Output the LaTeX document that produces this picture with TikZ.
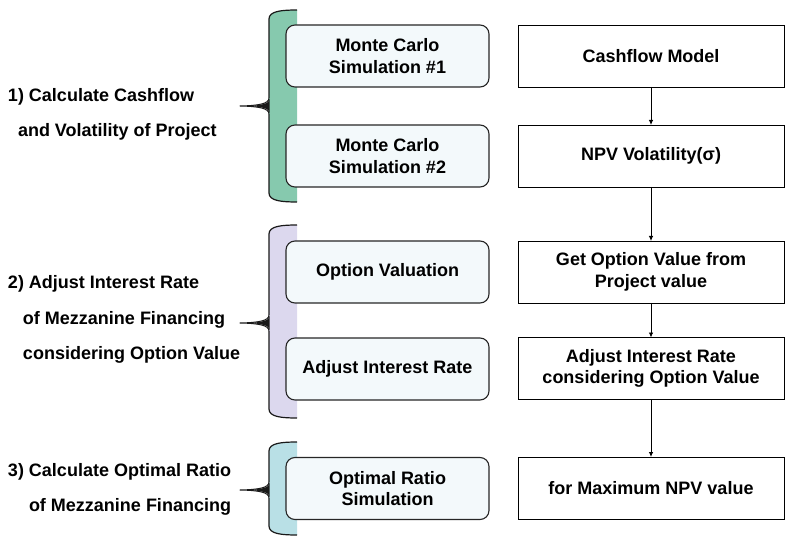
\documentclass[tikz,border=0pt]{standalone}
\usepackage{fontspec}
\setmainfont{Liberation Sans}
\usetikzlibrary{arrows.meta}
\definecolor{bgreen}{HTML}{86C9AE}
\definecolor{bpurple}{HTML}{DCD8EE}
\definecolor{bcyan}{HTML}{B9E0E6}
\definecolor{boxfill}{HTML}{F3F9FB}
\tikzset{
  every node/.style={font=\bfseries\fontsize{18}{21.5}\selectfont, inner sep=0pt, outer sep=0pt},
  leftbox/.style={draw=black!85, line width=1.1pt, fill=boxfill, rounded corners=9pt,
    minimum width=203pt, minimum height=62pt, align=center},
  rightbox/.style={draw=black, line width=0.9pt, fill=white,
    minimum width=266pt, minimum height=62pt, align=center},
  lab/.style={anchor=base west},
  flow/.style={draw=black, line width=0.8pt, -{Latex[length=5pt,width=4.5pt]}},
}
\newcommand{\mybrace}[4]{% color, top, tip, bottom
  \path[fill=#1] (297,#2) .. controls (282,#2) and (269,#2+1) .. (269,#2+9)
     -- (269,#4-9) .. controls (269,#4-1) and (282,#4) .. (297,#4) -- cycle;
  \draw[line width=1.2pt, black!90] (297,#2) .. controls (282,#2) and (269,#2+1) .. (269,#2+9)
     -- (269,#3-8);
  \draw[line width=1.2pt, black!90] (269,#3+8) -- (269,#4-9)
     .. controls (269,#4-1) and (282,#4) .. (297,#4);
  \draw[line width=1pt, black!90, line join=round] (269,#3-8) .. controls (269,#3-2) and (258,#3-0.4) .. (240,#3)
     .. controls (258,#3+0.4) and (269,#3+2) .. (269,#3+8);
  \fill[black!90] (269.6,#3-7) .. controls (269.6,#3-2) and (260,#3-0.9) .. (250,#3)
     .. controls (260,#3+0.9) and (269.6,#3+2) .. (269.6,#3+7) -- cycle;
}
\begin{document}
\begin{tikzpicture}[x=1pt,y=-1pt]
\useasboundingbox (0,0) rectangle (787,537);

\mybrace{bgreen}{10}{106}{202}
\mybrace{bpurple}{225}{323}{418}
\mybrace{bcyan}{442}{490}{535}

\node[leftbox] (m1) at (387.5,56) {Monte Carlo\\Simulation \#1};
\node[leftbox] (m2) at (387.5,156) {Monte Carlo\\Simulation \#2};
\node[leftbox] (ov) at (387.5,272) {Option Valuation};
\node[leftbox] (ai) at (387.5,369) {Adjust Interest Rate};
\node[leftbox] (or) at (387.5,488.5) {Optimal Ratio\\Simulation};

\node[rightbox] (r1) at (651,56) {Cashflow Model};
\node[rightbox] (r2) at (651,156) {NPV Volatility(σ)};
\node[rightbox] (r3) at (651,272) {Get Option Value from\\Project value};
\node[rightbox] (r4) at (651,368.5) {Adjust Interest Rate\\considering Option Value};
\node[rightbox] (r5) at (651,488) {for Maximum NPV value};

\draw[flow] (r1) -- (r2);
\draw[flow] (r2) -- (r3);
\draw[flow] (r3) -- (r4);
\draw[flow] (r4) -- (r5);

\node[lab] (l1a) at (8,101.5) {1) Calculate Cashflow};
\node[lab] (l1b) at (18,136.5) {and Volatility of Project};
\node[lab] (l2a) at (8,288.5) {2) Adjust Interest Rate};
\node[lab] (l2b) at (23,324.5) {of Mezzanine Financing};
\node[lab] (l2c) at (23,359.5) {considering Option Value};
\node[lab] (l3a) at (8,476.5) {3) Calculate Optimal Ratio};
\node[lab] (l3b) at (29,511.5) {of Mezzanine Financing};
\end{tikzpicture}
\end{document}
